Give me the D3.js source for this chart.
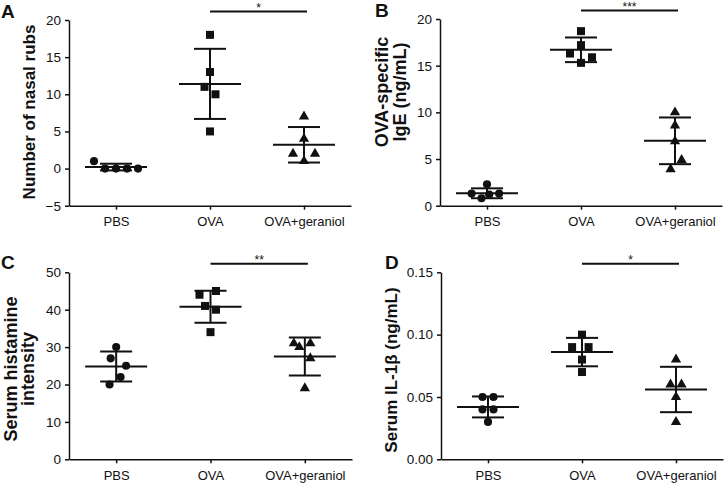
<!DOCTYPE html>
<html><head><meta charset="utf-8">
<script src="https://cdn.jsdelivr.net/npm/d3@7"></script>
<style>
body{margin:0;background:#fff}
svg{display:block}
text{font-family:"Liberation Sans",Arial,Helvetica,sans-serif;fill:#111}
</style>
</head><body>
<svg id="chart" width="724" height="483"></svg>
<script>
// ---------- data ----------
const groups = ["PBS", "OVA", "OVA+geraniol"];
const groupShapes = ["circle", "square", "triangle"];

// Panel A: number of nasal rubs
const nasalRubs      = [[1, 0, 0, 0, 0], [18, 13, 11, 10, 5], [7, 4, 2, 2, 1]];
const nasalRubsSlot  = [[-2, -1, 0, 1, 2], [0, 0, -0.5, 0.5, 0], [0, 0, -1, 1, 0]];
const nasalRubsMean  = [0.2, 11.4, 3.2];
const nasalRubsSD    = [0.45, 4.72, 2.39];
const nasalRubsTicks = [-5, 0, 5, 10, 15, 20];

// Panel B: OVA-specific IgE (ng/mL)
const ige      = [[2.3, 1.3, 1.2, 1.3, 0.8], [18.7, 17.2, 16.3, 15.9, 15.3], [10, 8.6, 6.9, 4.9, 3.9]];
const igeSlot  = [[0, -1.4, 0.2, 1.1, -0.5], [0, 0, -1, 1, 0], [0, 0, 0, 0.6, -0.4]];
const igeMean  = [1.33, 16.7, 6.95];
const igeSD    = [0.53, 1.32, 2.5];
const igeTicks = [0, 5, 10, 15, 20];

// Panel C: serum histamine intensity
const histamine      = [[30, 27, 25, 22, 20], [45, 44, 41, 40, 34], [31, 30, 31, 27, 19]];
const histamineSlot  = [[0, -0.5, 0.9, 0.4, -0.6], [0.5, -1, -0.5, 0.5, 0], [-1, -0.5, 0.5, 0.5, 0]];
const histamineMean  = [24.8, 40.8, 27.5];
const histamineSD    = [4.0, 4.3, 5.1];
const histamineTicks = [0, 10, 20, 30, 40, 50];

// Panel D: serum IL-1β (ng/mL)
const il1b      = [[0.05, 0.05, 0.04, 0.04, 0.03], [0.10, 0.09, 0.09, 0.08, 0.07], [0.08, 0.06, 0.06, 0.05, 0.03]];
const il1bSlot  = [[-0.5, 0.5, -0.5, 0.5, 0], [0, -0.9, 0.6, 0, 0], [0, -0.5, 0.5, 0, 0]];
const il1bMean  = [0.042, 0.086, 0.056];
const il1bSD    = [0.0084, 0.0114, 0.0182];
const il1bTicks = [0, 0.05, 0.10, 0.15];

const sigLabels = ["*", "***", "**", "*"];

// ---------- layout ----------
const svg = d3.select("#chart");
const panels = [
  {letter:"A", values:nasalRubs, slots:nasalRubsSlot, mean:nasalRubsMean, sd:nasalRubsSD, ticks:nasalRubsTicks,
   fmt:d3.format("d"), title:["Number of nasal rubs"], sig:sigLabels[0], titleSize:17,
   left:69, right:351, top:20, bottom:205.7, titleX:[29], titleY:112, letterX:1, letterY:18},
  {letter:"B", values:ige, slots:igeSlot, mean:igeMean, sd:igeSD, ticks:igeTicks,
   fmt:d3.format("d"), title:["OVA-specific", "IgE (ng/mL)"], sig:sigLabels[1], titleSize:18,
   left:440, right:722, top:19, bottom:205.7, titleX:[382, 400], titleY:92, letterX:375, letterY:17},
  {letter:"C", values:histamine, slots:histamineSlot, mean:histamineMean, sd:histamineSD, ticks:histamineTicks,
   fmt:d3.format("d"), title:["Serum histamine", "intensity"], sig:sigLabels[2], titleSize:18,
   left:69, right:352, top:272.3, bottom:459.3, titleX:[11, 28], titleY:369, letterX:1, letterY:268.5},
  {letter:"D", values:il1b, slots:il1bSlot, mean:il1bMean, sd:il1bSD, ticks:il1bTicks,
   fmt:d3.format(".2f"), title:["Serum IL-1\u03b2 (ng/mL)"], sig:sigLabels[3], titleSize:17,
   left:441, right:723, top:272.3, bottom:459.3, titleX:[391], titleY:370, letterX:385, letterY:268.5}
];

const symbolType = {circle:d3.symbolCircle, square:d3.symbolSquare, triangle:d3.symbolTriangle};
const symbolSize = {circle:52, square:64, triangle:46};
const slotPx = d3.scaleLinear().domain([0, 1]).range([0, 11]);
const meanHalf = 31, capHalf = 16;

panels.forEach(p => {
  const g = svg.append("g");
  const x = d3.scalePoint().domain(groups).range([p.left, p.right]).padding(0.5);
  const y = d3.scaleLinear().domain(d3.extent(p.ticks)).range([p.bottom, p.top]);

  // axes
  const ya = g.append("g").attr("transform", `translate(${p.left},0)`)
    .call(d3.axisLeft(y).tickValues(p.ticks).tickFormat(p.fmt).tickSize(4).tickSizeOuter(0).tickPadding(4));
  const xa = g.append("g").attr("transform", `translate(0,${p.bottom})`)
    .call(d3.axisBottom(x).tickSize(4).tickSizeOuter(0).tickPadding(7));
  [ya, xa].forEach(a => {
    a.selectAll("path.domain").attr("stroke", "#111").attr("stroke-width", 1.5);
    a.selectAll(".tick line").attr("stroke", "#111").attr("stroke-width", 1.5);
    a.selectAll(".tick text").attr("fill", "#111")
      .style("font-family", '"Liberation Sans",Arial,sans-serif');
  });
  ya.selectAll(".tick text").attr("font-size", 13.5);
  xa.selectAll(".tick text").attr("font-size", 13);

  // points
  groups.forEach((grp, gi) => {
    const shape = groupShapes[gi];
    g.append("g").selectAll("path")
      .data(p.values[gi].map((v, i) => ({v, s:p.slots[gi][i]})))
      .join("path")
      .attr("d", d3.symbol().type(symbolType[shape]).size(symbolSize[shape]))
      .attr("transform", d => `translate(${x(grp) + slotPx(d.s)},${y(d.v)})`)
      .attr("fill", "#111");

    // mean ± SD
    const cx = x(grp), m = p.mean[gi], s = p.sd[gi];
    const eb = g.append("g").attr("stroke", "#111").attr("stroke-width", 2).attr("fill", "none");
    eb.append("line").attr("x1", cx).attr("x2", cx).attr("y1", y(m + s)).attr("y2", y(m - s));
    eb.append("line").attr("x1", cx - meanHalf).attr("x2", cx + meanHalf).attr("y1", y(m)).attr("y2", y(m));
    eb.append("line").attr("x1", cx - capHalf).attr("x2", cx + capHalf).attr("y1", y(m + s)).attr("y2", y(m + s));
    eb.append("line").attr("x1", cx - capHalf).attr("x2", cx + capHalf).attr("y1", y(m - s)).attr("y2", y(m - s));
  });

  // significance bar
  const sy = p.top - 8.5;
  const sx1 = x(groups[1]), sx2 = x(groups[2]) + 3;
  g.append("line").attr("x1", sx1).attr("x2", sx2).attr("y1", sy).attr("y2", sy)
    .attr("stroke", "#111").attr("stroke-width", 2);
  g.append("text").attr("x", (sx1 + sx2) / 2).attr("y", sy + 0.5).attr("text-anchor", "middle")
    .attr("font-size", 12).attr("fill", "#555").text(p.sig);

  // y title
  const t = g.append("g");
  p.title.forEach((line, li) => {
    t.append("text")
      .attr("transform", `translate(${p.titleX[li]},${p.titleY}) rotate(-90)`)
      .attr("text-anchor", "middle").attr("dy", "0.35em")
      .attr("font-size", p.titleSize).attr("font-weight", "bold").text(line);
  });

  // panel letter
  g.append("text").attr("x", p.letterX).attr("y", p.letterY)
    .attr("font-size", 19).attr("font-weight", "bold").text(p.letter);
});
</script>
</body></html>
